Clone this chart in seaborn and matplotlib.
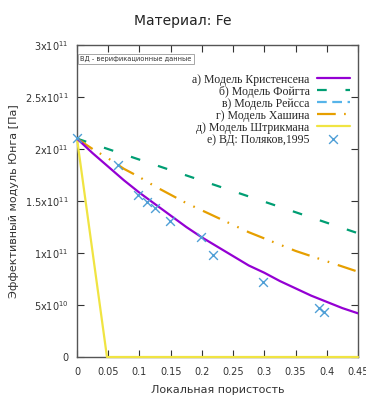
import matplotlib
matplotlib.use("Agg")
import matplotlib.pyplot as plt
from matplotlib.lines import Line2D
import seaborn as sns
import numpy as np
import pandas as pd

# ---- data ----
porosity = [0.0, 0.025, 0.05, 0.075, 0.10, 0.125, 0.15, 0.175, 0.20, 0.225,
            0.25, 0.275, 0.30, 0.325, 0.35, 0.375, 0.40, 0.425, 0.45]
christensen = [2.10e11, 1.96e11, 1.83e11, 1.70e11, 1.58e11, 1.47e11, 1.36e11, 1.25e11,
               1.15e11, 1.06e11, 0.97e11, 0.88e11, 0.81e11, 0.73e11, 0.66e11, 0.59e11,
               0.53e11, 0.47e11, 0.42e11]
hashin = [2.10e11, 2.00e11, 1.91e11, 1.81e11, 1.73e11, 1.64e11, 1.56e11, 1.48e11,
          1.41e11, 1.34e11, 1.27e11, 1.20e11, 1.14e11, 1.08e11, 1.02e11, 0.97e11,
          0.92e11, 0.87e11, 0.82e11]
voigt_x = [0.0, 0.45]
voigt = [2.10e11, 1.19e11]
reuss_x = [0.0, 0.45]
reuss = [0.0, 0.0]
strikman_x = [0.0, 0.048, 0.45]
strikman = [2.10e11, 0.0, 0.0]
exp_x = [0.0, 0.066, 0.097, 0.112, 0.125, 0.149, 0.199, 0.217, 0.298, 0.388, 0.396]
exp_y = [2.11e11, 1.85e11, 1.56e11, 1.49e11, 1.43e11, 1.31e11, 1.15e11, 0.98e11,
         0.724e11, 0.468e11, 0.436e11]

labels = ["а) Модель Кристенсена", "б) Модель Фойгта", "в) Модель Рейсса",
          "г) Модель Хашина", "д) Модель Штрикмана", "е) ВД: Поляков,1995"]
yticks = [0, 0.5e11, 1e11, 1.5e11, 2e11, 2.5e11, 3e11]
ytick_labels = ["0", r"$\mathregular{5x10^{10}}$", r"$\mathregular{1x10^{11}}$",
                r"$\mathregular{1.5x10^{11}}$", r"$\mathregular{2x10^{11}}$",
                r"$\mathregular{2.5x10^{11}}$", r"$\mathregular{3x10^{11}}$"]
xticks = [0, 0.05, 0.1, 0.15, 0.2, 0.25, 0.3, 0.35, 0.4, 0.45]
xtick_labels = ["0", "0.05", "0.1", "0.15", "0.2", "0.25", "0.3", "0.35", "0.4", "0.45"]

sns.set_style("ticks")
plt.rcParams["font.family"] = ["DejaVu Sans"]
plt.rcParams["lines.scale_dashes"] = False

fig = plt.figure(figsize=(3.66, 3.98), dpi=100)
ax = fig.add_axes([77/366, 1-357/398, (358-77)/366, (357-45)/398])

purple = "#9400d3"
green = "#009e73"
blue = "#56b4e9"
orange = "#e69f00"
yellow = "#f0e442"
mblue = "#4f9fd6"
LW = 1.6

sns.lineplot(x=porosity, y=christensen, ax=ax, color=purple, lw=LW,
             label=labels[0], zorder=4)
sns.lineplot(x=voigt_x, y=voigt, ax=ax, color=green, lw=LW,
             label=labels[1], zorder=3)
ax.lines[-1].set_dashes((7, 13.5))
sns.lineplot(x=reuss_x, y=reuss, ax=ax, color=blue, lw=LW,
             label=labels[2], zorder=1)
reuss_line = ax.lines[-1]
reuss_line.set_dashes((7, 4))
sns.lineplot(x=porosity, y=hashin, ax=ax, color=orange, lw=LW,
             label=labels[3], zorder=3)
ax.lines[-1].set_dashes((13.5, 6, 1.2, 6.5, 1.2, 6.5))
sns.lineplot(x=strikman_x, y=strikman, ax=ax, color=yellow, lw=LW,
             label=labels[4], zorder=3, clip_on=False)
sns.scatterplot(x=exp_x, y=exp_y, ax=ax, marker="x", s=40, color=mblue,
                linewidth=1.0, label=labels[5], zorder=5, clip_on=False)

ax.set_xlim(0, 0.45)
ax.set_ylim(0, 3e11)
ax.set_xticks(xticks)
ax.set_xticklabels(xtick_labels)
ax.set_yticks(yticks)
ax.set_yticklabels(ytick_labels)
ax.tick_params(direction="in", length=5, width=0.8, labelsize=7, colors="#333333",
               top=True, right=True)
ax.tick_params(axis="y", pad=6)
ax.tick_params(axis="x", pad=7)
for s in ax.spines.values():
    s.set_color("#555555")
    s.set_linewidth(1.0)

ax.set_xlabel("Локальная пористость", fontsize=8, color="#333333", labelpad=6)
ax.set_ylabel("Эффективный модуль Юнга [Па]", fontsize=8, color="#333333", labelpad=4)
fig.suptitle("Материал: Fe", x=0.5, y=0.965, fontsize=10, color="#222222")

# legend in desired order
h, l = ax.get_legend_handles_labels()
handles = []
for t in labels:
    hd = h[l.index(t)]
    if t == labels[2]:
        hd = Line2D([], [], color=blue, lw=LW, dashes=(7, 4))
    handles.append(hd)
# the Reuss line lies on zero and is hidden under the axis, as in the original
reuss_line.set_visible(False)
leg = ax.legend(handles, labels,
                loc="upper right", bbox_to_anchor=(1.0, 0.935),
                frameon=False, markerfirst=False,
                prop={"family": "Liberation Serif", "size": 8.5},
                handlelength=2.8, handletextpad=0.6, labelspacing=0.0,
                borderpad=0.2)

ax.text(0.012, 0.965, "ВД - верификационные данные", transform=ax.transAxes,
        fontsize=4.8, va="top", ha="left", color="#333333",
        bbox=dict(boxstyle="square,pad=0.35", fc="white", ec="#999999", lw=0.6))

fig.savefig("out.png", dpi=100)
